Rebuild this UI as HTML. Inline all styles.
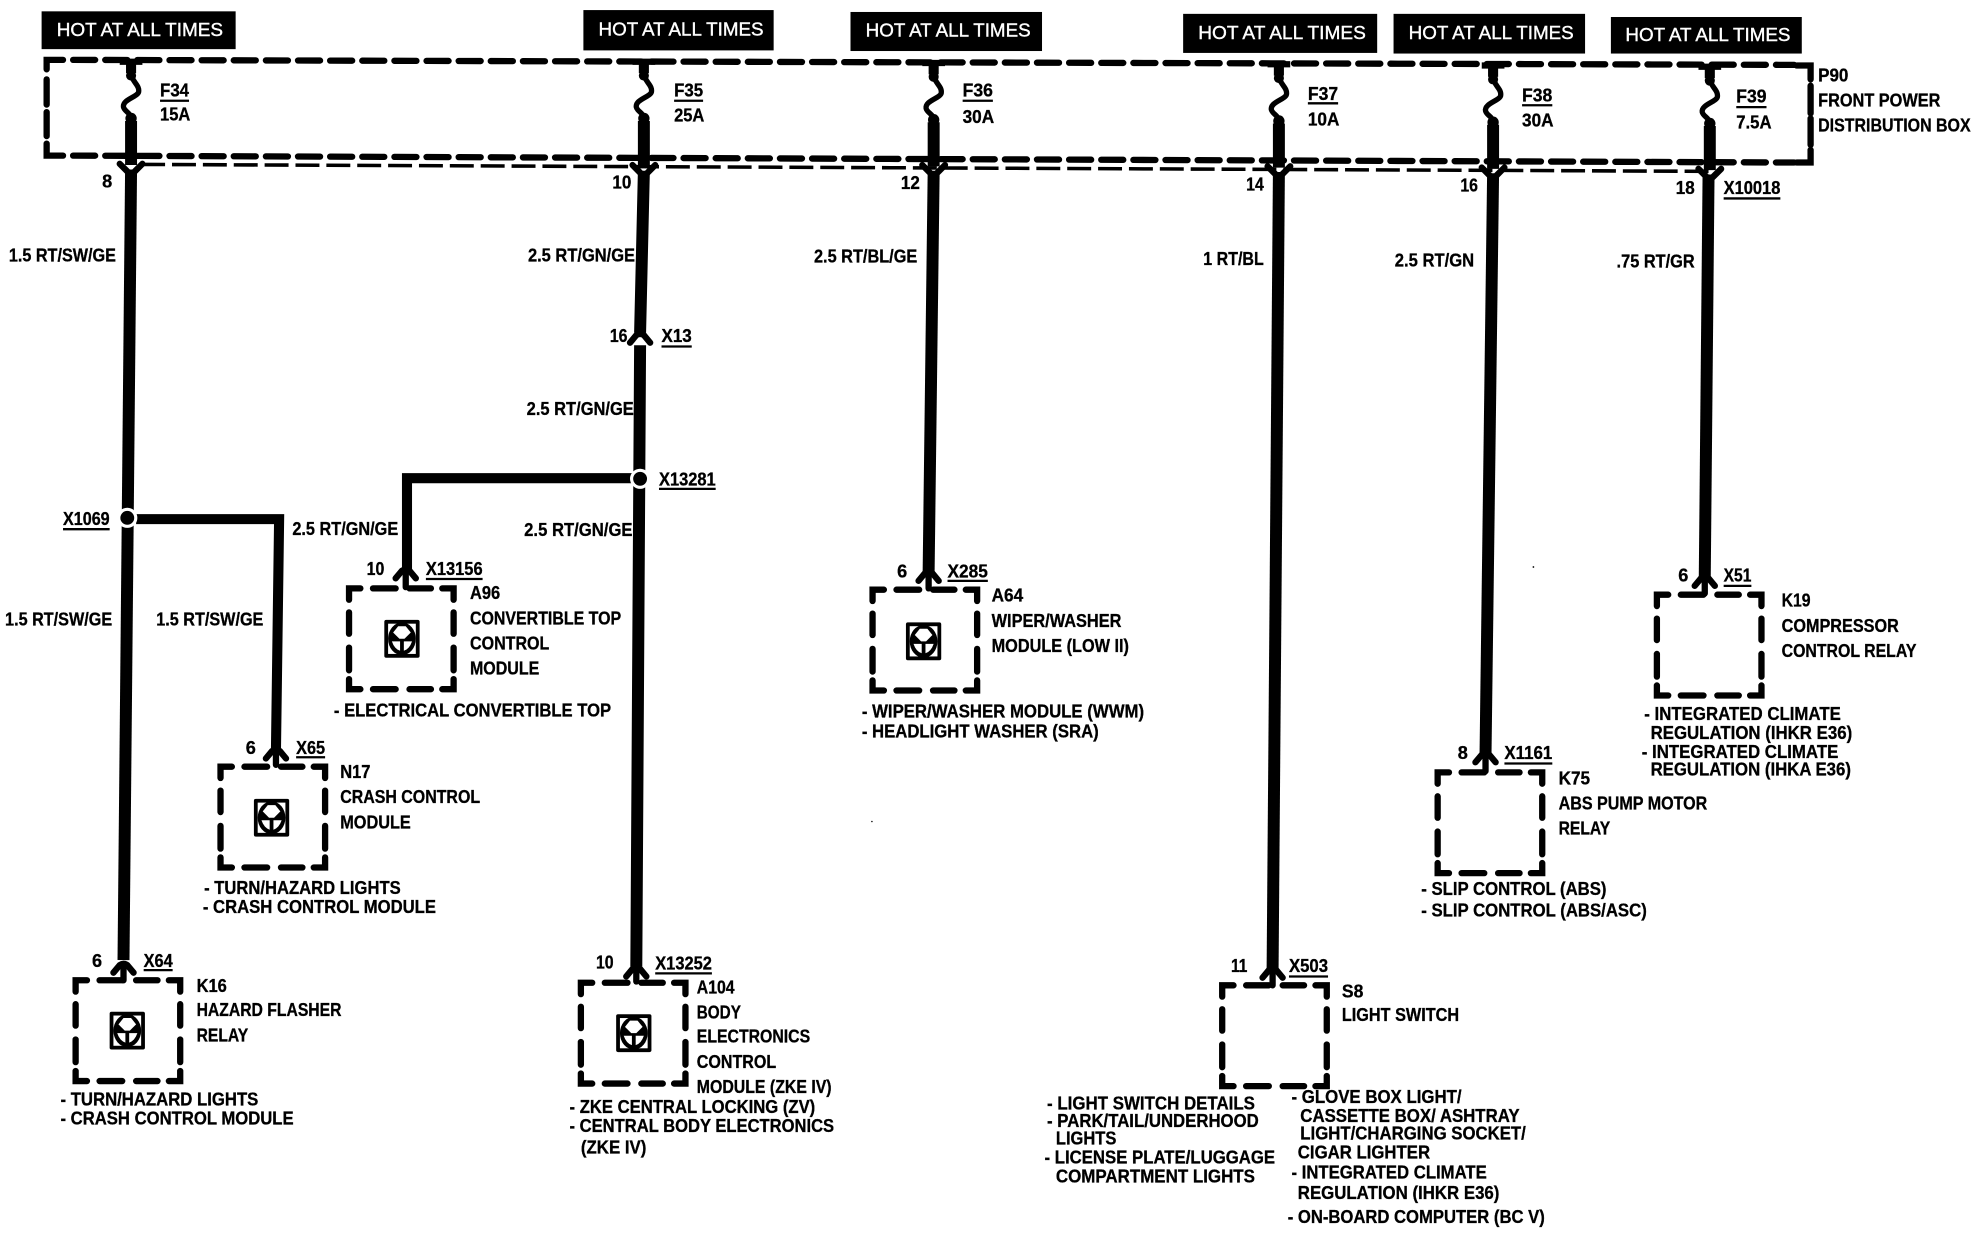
<!DOCTYPE html>
<html><head><meta charset="utf-8"><style>
html,body{margin:0;padding:0;background:#fff}
svg{display:block}
text{font-family:"Liberation Sans",sans-serif;font-weight:bold;font-size:14.5px;fill:#000;stroke:#000;stroke-width:.25;transform:translateY(.5px)}
.h{fill:#fff;font-weight:normal;font-size:15px;stroke:#fff;stroke-width:.3;transform:none}
.w{fill:none;stroke:#000;stroke-width:9.5}
.c{fill:none;stroke:#000;stroke-width:5;stroke-linejoin:round;stroke-linecap:round}
.r{stroke:#000;stroke-width:1.8}
.b{fill:none;stroke:#000;stroke-width:5;stroke-linecap:round}
</style></head><body>
<svg xmlns="http://www.w3.org/2000/svg" width="1976" height="1248" viewBox="0 0 1568.25 990.5">
<defs>
<g id="box"><path class="b" d="M1,10V1H10M20,1H38M49,1H66M75,1H84V10M1,20V37M1,48V66M84,20V37M84,48V66M1,73V81H10M20,81H38M49,81H66M75,81H84V73"/></g>
<g id="ico"><rect x="-14" y="-15" width="28" height="30" rx="1.5" fill="#000"/><rect x="-11" y="-12" width="22" height="24" fill="#fff"/><ellipse cx="0" cy="0" rx="11" ry="13" fill="#000"/><path d="M-7,-5L-3,-10H3L7,-5L2,0H-2Z" fill="#fff"/><path d="M-8,2H-1.5V9.5Q-6,8-8,2ZM8,2H1.5V9.5Q6,8 8,2Z" fill="#fff"/></g>
<g id="fuse"><path d="M-9,0H9" stroke="#000" stroke-width="5"/><path d="M0,0V9" stroke="#000" stroke-width="8"/><path d="M0,8C0,16 7,18 6,24C5,28-7,30-6,36C-5,40 0,40 0,46" fill="none" stroke="#000" stroke-width="4.2"/><circle cx="0" cy="11" r="4"/><circle cx="0" cy="45" r="4.5"/><path d="M0,47V82" stroke="#000" stroke-width="9.5"/></g>
<path id="chev" class="c" d="M-8,5L-3,-1Q0,-3 3,-1L8,5"/>
<path id="yy" class="c" d="M-9,0L-2,7H2L9,0"/>
</defs>

<!-- HOT boxes -->
<rect x="33" y="9" width="154" height="30"/><rect x="463" y="8" width="151" height="32"/><rect x="675" y="9.5" width="152" height="31"/><rect x="939" y="11" width="154" height="31"/><rect x="1106" y="11" width="152" height="31.5"/><rect x="1278.5" y="13.5" width="151.5" height="29"/>
<text class="h" x="45" y="28.5" textLength="132" lengthAdjust="spacingAndGlyphs">HOT AT ALL TIMES</text>
<text class="h" x="475" y="28" textLength="131" lengthAdjust="spacingAndGlyphs">HOT AT ALL TIMES</text>
<text class="h" x="687" y="29" textLength="131" lengthAdjust="spacingAndGlyphs">HOT AT ALL TIMES</text>
<text class="h" x="951" y="31" textLength="133" lengthAdjust="spacingAndGlyphs">HOT AT ALL TIMES</text>
<text class="h" x="1118" y="31" textLength="131" lengthAdjust="spacingAndGlyphs">HOT AT ALL TIMES</text>
<text class="h" x="1290" y="32.5" textLength="131" lengthAdjust="spacingAndGlyphs">HOT AT ALL TIMES</text>

<!-- power distribution box -->
<g fill="none" stroke="#000" stroke-linecap="round">
<path stroke-width="5" d="M37,55V47.5H50"/>
<path stroke-width="5" stroke-dasharray="17.5 8" d="M58,47.5L1424,51.5"/>
<path stroke-width="5" d="M1426,52H1437V63M1437,68V90M1437,94V115M1437,119V129H1426"/>
<path stroke-width="5" d="M37,63V83M37,89V108M37,114V123.5H50"/>
<path stroke-width="5" stroke-dasharray="17.5 8" d="M58,123.5L1424,129"/>
<path stroke-width="2.8" stroke-dasharray="19 5.5" stroke-linecap="butt" d="M112,130.5L1360,136"/>
</g>

<!-- fuses -->
<use href="#fuse" x="104" y="49"/><use href="#fuse" x="511" y="49"/><use href="#fuse" x="741" y="50"/><use href="#fuse" x="1015" y="51"/><use href="#fuse" x="1185" y="52"/><use href="#fuse" x="1357" y="53"/>
<use href="#yy" x="104" y="130"/><use href="#yy" x="511" y="131"/><use href="#yy" x="741" y="131"/><use href="#yy" x="1015" y="132"/><use href="#yy" x="1185" y="133"/><use href="#yy" x="1357" y="134"/>

<!-- wires -->
<path class="w" d="M104,135L98,762"/>
<path class="w" d="M511,136L508,264M508,274L505,767"/>
<path class="w" d="M741,136L737,454"/>
<path class="w" d="M1015,137L1010,769"/>
<path class="w" d="M1185,138L1179,598"/>
<path class="w" d="M1356,139L1353,458"/>
<path class="w" style="stroke-width:8" d="M108,412H221.5L219,595"/>
<path class="w" style="stroke-width:8" d="M502,379.5H323V452"/>
<circle cx="101" cy="411" r="8" fill="#fff"/><circle cx="101" cy="411" r="5.5"/>
<circle cx="508" cy="380" r="8" fill="#fff"/><circle cx="508" cy="380" r="5.5"/>
<use href="#chev" x="508" y="267"/>

<!-- connectors -->
<g>
<use href="#chev" x="98" y="767"/><path class="c" d="M98,768V778"/>
<use href="#chev" x="505" y="770"/><path class="c" d="M505,771V779"/>
<use href="#chev" x="219" y="597"/><path class="c" d="M219,598V607"/>
<use href="#chev" x="322" y="454"/><path class="c" d="M322,455V466"/>
<use href="#chev" x="737" y="456"/><path class="c" d="M737,457V467"/>
<use href="#chev" x="1010" y="771"/><path class="c" d="M1010,772V782"/>
<use href="#chev" x="1179" y="600"/><path class="c" d="M1179,601V612"/>
<use href="#chev" x="1353" y="460"/><path class="c" d="M1353,461V471"/>
</g>

<!-- component boxes -->
<use href="#box" x="59" y="777"/><use href="#box" x="174" y="607.5"/><use href="#box" x="276" y="466"/><use href="#box" x="460" y="779"/><use href="#box" x="691.5" y="467"/><use href="#box" x="969" y="781"/><use href="#box" x="1140" y="612"/><use href="#box" x="1314" y="471"/>
<use href="#ico" x="101" y="818"/><use href="#ico" x="215.5" y="649"/><use href="#ico" x="319" y="507"/><use href="#ico" x="503" y="820"/><use href="#ico" x="733" y="509"/>

<!-- underline rules -->
<g class="r">
<path d="M127,80H150M535,80H558M764,80H788M1038,82H1062M1208,83.5H1232M1378,85H1402"/>
<path d="M1368,157.5H1413M525,275H549M523,388H568M50,420H87M338,459.5H383M235,601H258M114,770H137M520,772.5H565M752,461H784M1023,775H1054M1194,606H1232M1368,465H1390"/>
</g>

<!-- fuse labels -->
<text x="127" y="76" textLength="23" lengthAdjust="spacingAndGlyphs">F34</text><text x="127" y="95" textLength="24" lengthAdjust="spacingAndGlyphs">15A</text>
<text x="535" y="76" textLength="23" lengthAdjust="spacingAndGlyphs">F35</text><text x="535" y="96" textLength="24" lengthAdjust="spacingAndGlyphs">25A</text>
<text x="764" y="76" textLength="24" lengthAdjust="spacingAndGlyphs">F36</text><text x="764" y="97" textLength="25" lengthAdjust="spacingAndGlyphs">30A</text>
<text x="1038" y="79" textLength="24" lengthAdjust="spacingAndGlyphs">F37</text><text x="1038" y="99" textLength="25" lengthAdjust="spacingAndGlyphs">10A</text>
<text x="1208" y="80" textLength="24" lengthAdjust="spacingAndGlyphs">F38</text><text x="1208" y="100" textLength="25" lengthAdjust="spacingAndGlyphs">30A</text>
<text x="1378" y="81" textLength="24" lengthAdjust="spacingAndGlyphs">F39</text><text x="1378" y="101.5" textLength="28" lengthAdjust="spacingAndGlyphs">7.5A</text>
<text x="1443" y="64" textLength="24" lengthAdjust="spacingAndGlyphs">P90</text>
<text x="1443" y="84" textLength="97" lengthAdjust="spacingAndGlyphs">FRONT POWER</text>
<text x="1443" y="104" textLength="121" lengthAdjust="spacingAndGlyphs">DISTRIBUTION BOX</text>

<!-- pin numbers -->
<text x="81" y="148.5" textLength="8" lengthAdjust="spacingAndGlyphs">8</text>
<text x="486" y="149" textLength="15" lengthAdjust="spacingAndGlyphs">10</text>
<text x="715" y="149.5" textLength="15" lengthAdjust="spacingAndGlyphs">12</text>
<text x="989" y="150.5" textLength="14" lengthAdjust="spacingAndGlyphs">14</text>
<text x="1159" y="151.5" textLength="14" lengthAdjust="spacingAndGlyphs">16</text>
<text x="1330" y="153.5" textLength="15" lengthAdjust="spacingAndGlyphs">18</text>
<text x="1368" y="153.5" textLength="45" lengthAdjust="spacingAndGlyphs">X10018</text>

<!-- wire labels -->
<text x="7" y="207" textLength="85" lengthAdjust="spacingAndGlyphs">1.5 RT/SW/GE</text>
<text x="419" y="207" textLength="85" lengthAdjust="spacingAndGlyphs">2.5 RT/GN/GE</text>
<text x="646" y="208" textLength="82" lengthAdjust="spacingAndGlyphs">2.5 RT/BL/GE</text>
<text x="955" y="210" textLength="48" lengthAdjust="spacingAndGlyphs">1 RT/BL</text>
<text x="1107" y="211" textLength="63" lengthAdjust="spacingAndGlyphs">2.5 RT/GN</text>
<text x="1283" y="212" textLength="62" lengthAdjust="spacingAndGlyphs">.75 RT/GR</text>
<text x="484" y="271" textLength="14" lengthAdjust="spacingAndGlyphs">16</text>
<text x="525" y="271" textLength="24" lengthAdjust="spacingAndGlyphs">X13</text>
<text x="418" y="329" textLength="85" lengthAdjust="spacingAndGlyphs">2.5 RT/GN/GE</text>
<text x="523" y="385" textLength="45" lengthAdjust="spacingAndGlyphs">X13281</text>
<text x="416" y="425" textLength="86" lengthAdjust="spacingAndGlyphs">2.5 RT/GN/GE</text>
<text x="232" y="424" textLength="84" lengthAdjust="spacingAndGlyphs">2.5 RT/GN/GE</text>
<text x="50" y="416" textLength="37" lengthAdjust="spacingAndGlyphs">X1069</text>
<text x="4" y="496" textLength="85" lengthAdjust="spacingAndGlyphs">1.5 RT/SW/GE</text>
<text x="124" y="496" textLength="85" lengthAdjust="spacingAndGlyphs">1.5 RT/SW/GE</text>

<!-- A96 -->
<text x="291" y="456" textLength="14" lengthAdjust="spacingAndGlyphs">10</text>
<text x="338" y="456" textLength="45" lengthAdjust="spacingAndGlyphs">X13156</text>
<text x="373" y="475" textLength="24" lengthAdjust="spacingAndGlyphs">A96</text>
<text x="373" y="495" textLength="120" lengthAdjust="spacingAndGlyphs">CONVERTIBLE TOP</text>
<text x="373" y="515" textLength="63" lengthAdjust="spacingAndGlyphs">CONTROL</text>
<text x="373" y="535" textLength="55" lengthAdjust="spacingAndGlyphs">MODULE</text>
<text x="265" y="568" textLength="220" lengthAdjust="spacingAndGlyphs">- ELECTRICAL CONVERTIBLE TOP</text>

<!-- N17 -->
<text x="195" y="598" textLength="8" lengthAdjust="spacingAndGlyphs">6</text>
<text x="235" y="598" textLength="23" lengthAdjust="spacingAndGlyphs">X65</text>
<text x="270" y="617" textLength="24" lengthAdjust="spacingAndGlyphs">N17</text>
<text x="270" y="637" textLength="111" lengthAdjust="spacingAndGlyphs">CRASH CONTROL</text>
<text x="270" y="657" textLength="56" lengthAdjust="spacingAndGlyphs">MODULE</text>
<text x="162" y="709" textLength="156" lengthAdjust="spacingAndGlyphs">- TURN/HAZARD LIGHTS</text>
<text x="161" y="724" textLength="185" lengthAdjust="spacingAndGlyphs">- CRASH CONTROL MODULE</text>

<!-- K16 -->
<text x="73" y="767" textLength="8" lengthAdjust="spacingAndGlyphs">6</text>
<text x="114" y="767" textLength="23" lengthAdjust="spacingAndGlyphs">X64</text>
<text x="156" y="787" textLength="24" lengthAdjust="spacingAndGlyphs">K16</text>
<text x="156" y="806" textLength="115" lengthAdjust="spacingAndGlyphs">HAZARD FLASHER</text>
<text x="156" y="826" textLength="41" lengthAdjust="spacingAndGlyphs">RELAY</text>
<text x="48" y="877" textLength="157" lengthAdjust="spacingAndGlyphs">- TURN/HAZARD LIGHTS</text>
<text x="48" y="892" textLength="185" lengthAdjust="spacingAndGlyphs">- CRASH CONTROL MODULE</text>

<!-- A104 -->
<text x="473" y="768" textLength="14" lengthAdjust="spacingAndGlyphs">10</text>
<text x="520" y="769" textLength="45" lengthAdjust="spacingAndGlyphs">X13252</text>
<text x="553" y="788" textLength="30" lengthAdjust="spacingAndGlyphs">A104</text>
<text x="553" y="808" textLength="35" lengthAdjust="spacingAndGlyphs">BODY</text>
<text x="553" y="827" textLength="90" lengthAdjust="spacingAndGlyphs">ELECTRONICS</text>
<text x="553" y="847" textLength="63" lengthAdjust="spacingAndGlyphs">CONTROL</text>
<text x="553" y="867" textLength="107" lengthAdjust="spacingAndGlyphs">MODULE (ZKE IV)</text>
<text x="452" y="883" textLength="195" lengthAdjust="spacingAndGlyphs">- ZKE CENTRAL LOCKING (ZV)</text>
<text x="452" y="898" textLength="210" lengthAdjust="spacingAndGlyphs">- CENTRAL BODY ELECTRONICS</text>
<text x="461" y="915" textLength="52" lengthAdjust="spacingAndGlyphs">(ZKE IV)</text>

<!-- A64 -->
<text x="712" y="458" textLength="8" lengthAdjust="spacingAndGlyphs">6</text>
<text x="752" y="458" textLength="32" lengthAdjust="spacingAndGlyphs">X285</text>
<text x="787" y="477" textLength="25" lengthAdjust="spacingAndGlyphs">A64</text>
<text x="787" y="497" textLength="103" lengthAdjust="spacingAndGlyphs">WIPER/WASHER</text>
<text x="787" y="517" textLength="109" lengthAdjust="spacingAndGlyphs">MODULE (LOW II)</text>
<text x="684" y="569" textLength="224" lengthAdjust="spacingAndGlyphs">- WIPER/WASHER MODULE (WWM)</text>
<text x="684" y="585" textLength="188" lengthAdjust="spacingAndGlyphs">- HEADLIGHT WASHER (SRA)</text>

<!-- S8 -->
<text x="977" y="771" textLength="13" lengthAdjust="spacingAndGlyphs">11</text>
<text x="1023" y="771" textLength="31" lengthAdjust="spacingAndGlyphs">X503</text>
<text x="1065" y="791" textLength="17" lengthAdjust="spacingAndGlyphs">S8</text>
<text x="1065" y="810" textLength="93" lengthAdjust="spacingAndGlyphs">LIGHT SWITCH</text>
<text x="831" y="880" textLength="165" lengthAdjust="spacingAndGlyphs">- LIGHT SWITCH DETAILS</text>
<text x="831" y="894" textLength="168" lengthAdjust="spacingAndGlyphs">- PARK/TAIL/UNDERHOOD</text>
<text x="838" y="908" textLength="48" lengthAdjust="spacingAndGlyphs">LIGHTS</text>
<text x="829" y="923" textLength="183" lengthAdjust="spacingAndGlyphs">- LICENSE PLATE/LUGGAGE</text>
<text x="838" y="938" textLength="158" lengthAdjust="spacingAndGlyphs">COMPARTMENT LIGHTS</text>
<text x="1025" y="875" textLength="135" lengthAdjust="spacingAndGlyphs">- GLOVE BOX LIGHT/</text>
<text x="1032" y="890" textLength="174" lengthAdjust="spacingAndGlyphs">CASSETTE BOX/ ASHTRAY</text>
<text x="1032" y="904" textLength="179" lengthAdjust="spacingAndGlyphs">LIGHT/CHARGING SOCKET/</text>
<text x="1030" y="919" textLength="105" lengthAdjust="spacingAndGlyphs">CIGAR LIGHTER</text>
<text x="1025" y="935" textLength="155" lengthAdjust="spacingAndGlyphs">- INTEGRATED CLIMATE</text>
<text x="1030" y="951" textLength="160" lengthAdjust="spacingAndGlyphs">REGULATION (IHKR E36)</text>
<text x="1022" y="970" textLength="204" lengthAdjust="spacingAndGlyphs">- ON-BOARD COMPUTER (BC V)</text>

<!-- K75 -->
<text x="1157" y="602" textLength="8" lengthAdjust="spacingAndGlyphs">8</text>
<text x="1194" y="602" textLength="38" lengthAdjust="spacingAndGlyphs">X1161</text>
<text x="1237" y="622" textLength="25" lengthAdjust="spacingAndGlyphs">K75</text>
<text x="1237" y="642" textLength="118" lengthAdjust="spacingAndGlyphs">ABS PUMP MOTOR</text>
<text x="1237" y="662" textLength="41" lengthAdjust="spacingAndGlyphs">RELAY</text>
<text x="1128" y="710" textLength="147" lengthAdjust="spacingAndGlyphs">- SLIP CONTROL (ABS)</text>
<text x="1128" y="727" textLength="179" lengthAdjust="spacingAndGlyphs">- SLIP CONTROL (ABS/ASC)</text>

<!-- K19 -->
<text x="1332" y="461" textLength="8" lengthAdjust="spacingAndGlyphs">6</text>
<text x="1368" y="461" textLength="22" lengthAdjust="spacingAndGlyphs">X51</text>
<text x="1414" y="481" textLength="23" lengthAdjust="spacingAndGlyphs">K19</text>
<text x="1414" y="501" textLength="93" lengthAdjust="spacingAndGlyphs">COMPRESSOR</text>
<text x="1414" y="521" textLength="107" lengthAdjust="spacingAndGlyphs">CONTROL RELAY</text>
<text x="1305" y="571" textLength="156" lengthAdjust="spacingAndGlyphs">- INTEGRATED CLIMATE</text>
<text x="1310" y="586" textLength="160" lengthAdjust="spacingAndGlyphs">REGULATION (IHKR E36)</text>
<text x="1303" y="601" textLength="156" lengthAdjust="spacingAndGlyphs">- INTEGRATED CLIMATE</text>
<text x="1310" y="615" textLength="159" lengthAdjust="spacingAndGlyphs">REGULATION (IHKA E36)</text>

<circle cx="1217" cy="450" r=".7"/><circle cx="692" cy="652" r=".6"/>
</svg>
</body></html>
